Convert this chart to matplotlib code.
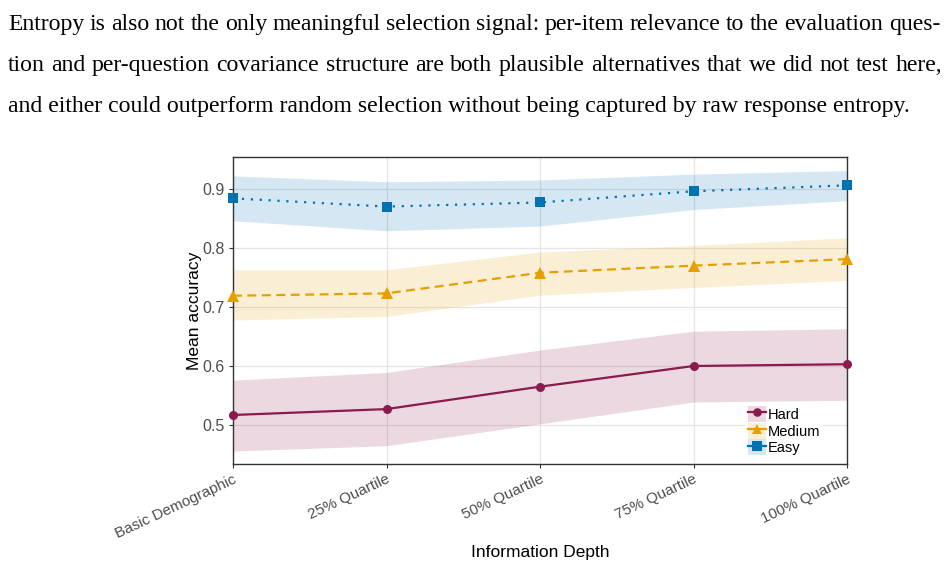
import matplotlib
matplotlib.use("Agg")
import matplotlib.pyplot as plt
from matplotlib.lines import Line2D
from matplotlib.patches import Patch
import numpy as np

categories = ["Basic Demographic", "25% Quartile", "50% Quartile", "75% Quartile", "100% Quartile"]

hard_mean = [0.517, 0.527, 0.565, 0.600, 0.603]
hard_low = [0.456, 0.465, 0.502, 0.539, 0.542]
hard_high = [0.576, 0.589, 0.627, 0.659, 0.663]

medium_mean = [0.719, 0.723, 0.758, 0.770, 0.781]
medium_low = [0.678, 0.684, 0.720, 0.733, 0.745]
medium_high = [0.763, 0.763, 0.793, 0.804, 0.817]

easy_mean = [0.884, 0.870, 0.877, 0.896, 0.906]
easy_low = [0.846, 0.829, 0.837, 0.865, 0.880]
easy_high = [0.922, 0.912, 0.915, 0.925, 0.931]

yticks = [0.5, 0.6, 0.7, 0.8, 0.9]

paragraph = [
    "Entropy is also not the only meaningful selection signal: per-item relevance to the evaluation ques-",
    "tion and per-question covariance structure are both plausible alternatives that we did not test here,",
    "and either could outperform random selection without being captured by raw response entropy.",
]

W, H, DPI = 948, 571, 100
fig = plt.figure(figsize=(W / DPI, H / DPI), dpi=DPI)
fig.patch.set_facecolor("white")

# ---- paragraph text (justified) ----
renderer = fig.canvas.get_renderer()
serif = ["Liberation Serif", "DejaVu Serif"]
probe = fig.text(0, 0, paragraph[2], fontsize=17, family=serif)
w3 = probe.get_window_extent(renderer).width
probe.remove()
fs = 17 * 905.0 / w3
line_specs = [(30, 8, 940, True), (71, 8, 942, True), (112, 8, None, False)]
for text, (base, x0, x1, justify) in zip(paragraph, line_specs):
    yb = 1 - base / H
    if not justify:
        fig.text(x0 / W, yb, text, fontsize=fs, family=serif, va="baseline", ha="left")
        continue
    words = text.split(" ")
    widths = []
    for wd in words:
        t = fig.text(0, 0, wd, fontsize=fs, family=serif)
        widths.append(t.get_window_extent(renderer).width)
        t.remove()
    gap = (x1 - x0 - sum(widths)) / (len(words) - 1)
    x = x0
    for wd, wdw in zip(words, widths):
        fig.text(x / W, yb, wd, fontsize=fs, family=serif, va="baseline", ha="left")
        x += wdw + gap

# ---- chart ----
ax = fig.add_axes([233 / W, 1 - 464 / H, (847 - 233) / W, (464 - 157) / H])
x = np.arange(len(categories))

series = [
    ("Hard", hard_mean, hard_low, hard_high, "#8B1A4F", "o", "-", 6.5),
    ("Medium", medium_mean, medium_low, medium_high, "#E69F00", "^", (0, (4, 2.5)), 8),
    ("Easy", easy_mean, easy_low, easy_high, "#0072B2", "s", (0, (1, 3)), 7),
]

handles = []
for name, m, lo, hi, col, mk, ls, ms in series:
    ax.fill_between(x, lo, hi, color=col, alpha=0.17, lw=0, zorder=1)
    ax.plot(x, m, color=col, lw=1.6, linestyle=ls, marker=mk, markersize=ms,
            markeredgewidth=0, zorder=3, clip_on=False)
    handles.append((Patch(facecolor=col, alpha=0.17, edgecolor="none"),
                    Line2D([], [], color=col, lw=1.6, marker=mk, markersize=ms * 0.95,
                           markeredgewidth=0, linestyle="-")))

ax.set_xlim(0, 4)
ax.set_ylim(0.434, 0.954)
ax.set_xticks(x)
ax.set_xticklabels(categories, rotation=25, ha="right", va="top",
                   rotation_mode="anchor", family="Liberation Sans", fontsize=11, color="#4D4D4D")
ax.set_yticks(yticks)
ax.set_yticklabels([f"{v:.1f}" for v in yticks], family="Liberation Sans", fontsize=11.5, color="#4D4D4D")
ax.tick_params(axis="both", length=3, width=0.8, color="#333333", pad=3)
ax.grid(True, color="#E5E5E5", lw=0.9, zorder=0)
ax.set_axisbelow(True)
for sp in ax.spines.values():
    sp.set_color("#333333")
    sp.set_linewidth(1.0)

ax.set_ylabel("Mean accuracy", family="Liberation Sans", fontsize=12.5, color="black")
ax.yaxis.set_label_coords((195 - 233) / 614, 0.5)
ax.yaxis.label.set_va("center")
ax.set_xlabel("Information Depth", family="Liberation Sans", fontsize=12.5, color="black")
ax.xaxis.set_label_coords(0.5, (464 - 553) / 307)
ax.xaxis.label.set_va("center")

leg = ax.legend(handles, [s[0] for s in series], loc="upper left",
                bbox_to_anchor=((745 - 233) / 614, (464 - 403) / 307), frameon=True, framealpha=1,
                edgecolor="none", facecolor="white", fancybox=False,
                handlelength=1.25, handleheight=1.3, handletextpad=0.1,
                labelspacing=0.06, borderpad=0.2, borderaxespad=0,
                prop={"family": "Liberation Sans", "size": 10.5})
leg.set_zorder(5)

fig.savefig("out.png", dpi=DPI)
